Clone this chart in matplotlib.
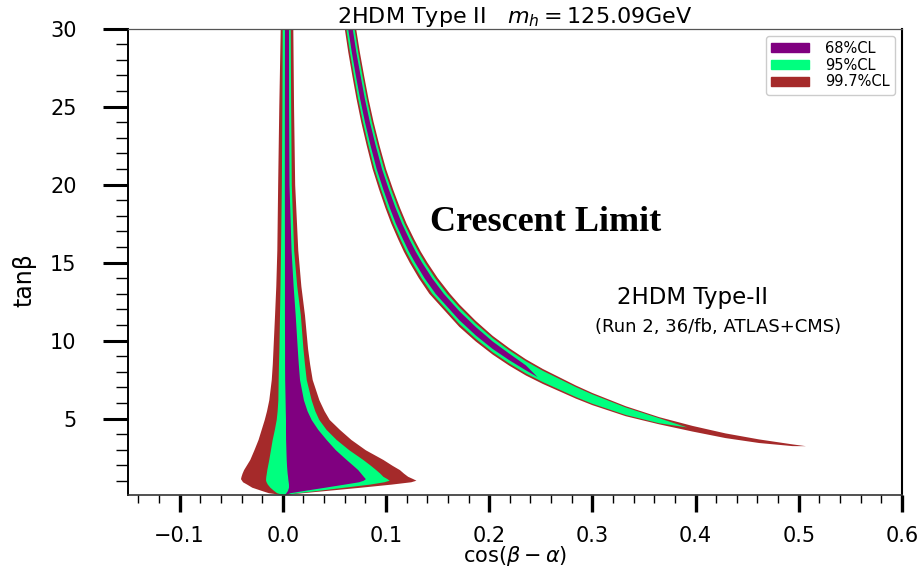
import matplotlib
matplotlib.use('Agg')
import matplotlib.pyplot as plt
from matplotlib.patches import Patch
from matplotlib.ticker import MultipleLocator

# colours of the three confidence levels
c68 = '#800080'
c95 = '#00ff7f'
c997 = '#a52a2a'

# ---- region near the alignment limit cos(b-a) ~ 0 : edges at each tanb ----
tan_left = [0.13, 0.25, 0.4, 0.6, 0.8, 0.95, 1.05, 1.15, 1.3, 1.5, 1.73, 2.0, 2.38, 3.0,
            3.66, 4.3, 4.94, 5.5, 6.2, 7.5, 8.5, 9.5, 11.65, 13.5, 15.8, 20, 25, 30]
brown_left = [-0.001, -0.014, -0.021, -0.030, -0.035, -0.039, -0.040, -0.041, -0.0405, -0.0395, -0.038, -0.0355,
              -0.032, -0.028, -0.024, -0.021, -0.018, -0.0158, -0.0136, -0.0112, -0.0102, -0.0095, -0.008,
              -0.0068, -0.0058, -0.0050, -0.0039, -0.0025]
brown_right = [0.002, 0.019, 0.043, 0.075, 0.105, 0.124, 0.129, 0.126, 0.121, 0.117, 0.113, 0.106,
               0.097, 0.080, 0.066, 0.055, 0.045, 0.040, 0.035, 0.0285, 0.026, 0.024, 0.021,
               0.0175, 0.0145, 0.0115, 0.0104, 0.0097]
green_left = [0.000, -0.006, -0.009, -0.0125, -0.015, -0.0162, -0.0167, -0.0167, -0.0165, -0.016, -0.0155, -0.0147,
              -0.0136, -0.012, -0.0103, -0.0082, -0.0064, -0.0055, -0.0048, -0.0045, -0.0042, -0.0038, -0.0032,
              -0.0027, -0.0022, -0.0014, -0.0009, -0.0006]
green_right = [0.001, 0.015, 0.034, 0.059, 0.084, 0.098, 0.103, 0.101, 0.097, 0.094, 0.090, 0.085,
               0.0775, 0.064, 0.0517, 0.042, 0.0349, 0.031, 0.0275, 0.0227, 0.021, 0.0195, 0.017,
               0.0135, 0.0105, 0.0082, 0.0076, 0.0072]
purple_left = [0.0015, 0.003, 0.0045, 0.0055, 0.0055, 0.0052, 0.005, 0.0048, 0.0046, 0.0042, 0.0039, 0.0036,
               0.0033, 0.003, 0.0027, 0.0026, 0.0026, 0.0024, 0.0022, 0.0018, 0.0017, 0.0017, 0.0016,
               0.0016, 0.0016, 0.0015, 0.0015, 0.0016]
purple_right = [0.0025, 0.007, 0.021, 0.0405, 0.0595, 0.0735, 0.078, 0.080, 0.078, 0.0755, 0.0726, 0.068,
                0.0614, 0.051, 0.042, 0.034, 0.0275, 0.0235, 0.020, 0.0162, 0.015, 0.014, 0.012,
                0.010, 0.008, 0.006, 0.0056, 0.0055]

# ---- crescent (wrong sign) band ----
# steep part: band centre in cos(b-a) and half widths at each tanb
cres_tan = [30, 28.5, 27, 25.5, 24, 22.5, 21, 19.7, 18.5, 17.5, 16.5, 15.7, 15, 14, 13]
cres_x = [0.0655, 0.0690, 0.0730, 0.0772, 0.0820, 0.0875, 0.0935, 0.1000, 0.1065, 0.1125,
          0.1195, 0.1255, 0.1315, 0.1410, 0.1520]
brown_hw_x = [0.0055, 0.0056, 0.0057, 0.0058, 0.0060, 0.0062, 0.0065, 0.0068, 0.0071, 0.0074,
              0.0078, 0.0082, 0.0086, 0.0092, 0.0100]
green_hw_x = [0.0040, 0.0040, 0.0041, 0.0042, 0.0043, 0.0045, 0.0047, 0.0049, 0.0051, 0.0053,
              0.0056, 0.0059, 0.0062, 0.0066, 0.0072]
purple_hw_x = [0.0022, 0.0022, 0.0023, 0.0023, 0.0024, 0.0025, 0.0026, 0.0027, 0.0028, 0.0030,
               0.0031, 0.0033, 0.0034, 0.0037, 0.0040]

# flat part: band centre in tanb and half widths at each cos(b-a)
brown_cos = [0.171, 0.187, 0.2034, 0.2195, 0.2356, 0.252, 0.268, 0.284, 0.300, 0.3324,
             0.3648, 0.397, 0.429, 0.4615, 0.494, 0.507]
brown_tan = [11.6, 10.6, 9.70, 8.95, 8.28, 7.70, 7.20, 6.70, 6.25, 5.47,
             4.86, 4.35, 3.90, 3.55, 3.29, 3.23]
brown_hw_t = [0.72, 0.66, 0.60, 0.56, 0.52, 0.48, 0.45, 0.42, 0.39, 0.32,
              0.23, 0.18, 0.15, 0.115, 0.055, 0.0]
green_cos = [0.171, 0.187, 0.2034, 0.2195, 0.2356, 0.252, 0.268, 0.284, 0.300, 0.3324, 0.3648, 0.392]
green_tan = [11.6, 10.6, 9.70, 8.95, 8.28, 7.70, 7.20, 6.70, 6.25, 5.47, 4.86, 4.43]
green_hw_t = [0.53, 0.49, 0.45, 0.42, 0.39, 0.36, 0.34, 0.32, 0.30, 0.24, 0.16, 0.0]
purple_cos = [0.171, 0.187, 0.2034, 0.2195, 0.2356, 0.247]
purple_tan = [11.6, 10.6, 9.70, 8.95, 8.25, 7.65]
purple_hw_t = [0.29, 0.27, 0.24, 0.21, 0.16, 0.0]


def band(hw_x, cos_lo, tan_lo, hw_t):
    # outline of one confidence band: outer edge down to the tip, inner edge back up
    xs, ys = [], []
    for t, xc, w in zip(cres_tan, cres_x, hw_x):
        xs.append(xc + w)
        ys.append(t)
    for c, tc, w in zip(cos_lo, tan_lo, hw_t):
        xs.append(c)
        ys.append(tc + w)
    for c, tc, w in zip(cos_lo[::-1], tan_lo[::-1], hw_t[::-1]):
        xs.append(c)
        ys.append(tc - w)
    for t, xc, w in zip(cres_tan[::-1], cres_x[::-1], hw_x[::-1]):
        xs.append(xc - w)
        ys.append(t)
    return xs, ys


fig, ax = plt.subplots(figsize=(9.23, 5.69), dpi=100)
fig.subplots_adjust(left=0.1387, right=0.9772, top=0.9499, bottom=0.130)

ax.fill_betweenx(tan_left, brown_left, brown_right, color=c997, lw=0)
ax.fill_betweenx(tan_left, green_left, green_right, color=c95, lw=0)
ax.fill_betweenx(tan_left, purple_left, purple_right, color=c68, lw=0)

bx, by = band(brown_hw_x, brown_cos, brown_tan, brown_hw_t)
gx, gy = band(green_hw_x, green_cos, green_tan, green_hw_t)
px, py = band(purple_hw_x, purple_cos, purple_tan, purple_hw_t)
ax.fill(bx, by, color=c997, lw=0)
ax.fill(gx, gy, color=c95, lw=0)
ax.fill(px, py, color=c68, lw=0)

ax.set_xlim(-0.15, 0.6)
ax.set_ylim(0.1, 30)
ax.xaxis.set_major_locator(MultipleLocator(0.1))
ax.xaxis.set_minor_locator(MultipleLocator(0.02))
ax.yaxis.set_major_locator(MultipleLocator(5))
ax.yaxis.set_minor_locator(MultipleLocator(1))

ax.tick_params(axis='y', which='major', direction='out', length=18, width=2.2, pad=19, labelsize=15)
ax.tick_params(axis='y', which='minor', direction='out', length=8.5, width=1.0)
ax.tick_params(axis='x', which='major', direction='out', length=12, width=2.4, pad=10, labelsize=15)
ax.tick_params(axis='x', which='minor', direction='out', length=6, width=1.0)

ax.spines['top'].set_color('#555555')
ax.spines['top'].set_linewidth(0.9)
ax.spines['left'].set_linewidth(1.4)
ax.spines['right'].set_linewidth(1.5)
ax.spines['bottom'].set_color('#333333')
ax.spines['bottom'].set_linewidth(1.2)

ax.set_title(r'2HDM Type II   $m_h = 125.09$GeV', fontsize=16, pad=3)
ax.set_xlabel(r'cos$(\beta - \alpha)$', fontsize=15, labelpad=-1)
ax.set_ylabel('tanβ', fontsize=17)
ax.yaxis.set_label_coords(-0.118, 0.46)

ax.text(0.539, 0.585, 'Crescent Limit', transform=ax.transAxes, ha='center', va='center',
        fontsize=26, fontweight='bold', family='Liberation Serif')
ax.text(0.729, 0.424, '2HDM Type-II', transform=ax.transAxes, ha='center', va='center', fontsize=16.5)
ax.text(0.762, 0.360, '(Run 2, 36/fb, ATLAS+CMS)', transform=ax.transAxes, ha='center', va='center',
        fontsize=13)

handles = [Patch(color=c68, label='68%CL'), Patch(color=c95, label='95%CL'), Patch(color=c997, label='99.7%CL')]
ax.legend(handles=handles, loc='upper right', fontsize=10.5, handlelength=2.6, handleheight=0.6,
          handletextpad=1.1, labelspacing=0.12, borderaxespad=0.5, borderpad=0.35, framealpha=1)

fig.savefig('out.png', dpi=100)
